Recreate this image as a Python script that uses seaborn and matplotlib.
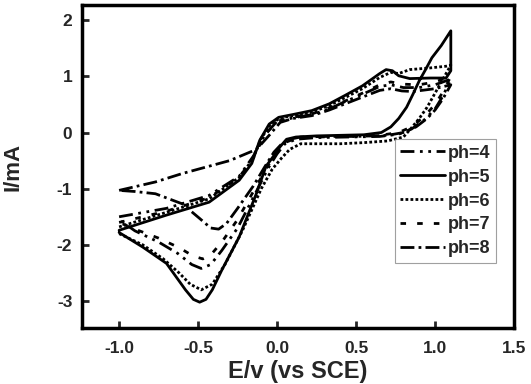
import matplotlib
matplotlib.use("Agg")
import matplotlib.pyplot as plt
import numpy as np
import pandas as pd
import seaborn as sns

# potential (V vs SCE) and current (mA); forward sweep then reverse sweep
ph4_E = [-1.0, -0.7, -0.43, -0.24, -0.15, -0.08, 0.0, 0.1, 0.22, 0.33, 0.43, 0.54, 0.65, 0.72, 0.8, 0.9, 1.0, 1.1,
         1.05, 1.0, 0.93, 0.85, 0.77, 0.65, 0.45, 0.25, 0.12, 0.05, 0.0, -0.06, -0.14, -0.25, -0.35, -0.42, -0.48,
         -0.54, -0.63, -0.75, -0.9, -1.0]
ph4_I = [-1.5, -1.35, -1.12, -0.78, -0.42, -0.05, 0.2, 0.26, 0.32, 0.42, 0.55, 0.68, 0.82, 0.85, 0.8, 0.8, 0.85, 0.95,
         0.65, 0.42, 0.22, 0.06, -0.03, -0.07, -0.08, -0.09, -0.12, -0.2, -0.38, -0.65, -1.1, -1.7, -2.1, -2.35, -2.42,
         -2.35, -2.15, -1.95, -1.75, -1.55]

ph5_E = [-1.0, -0.7, -0.43, -0.24, -0.16, -0.11, -0.05, 0.01, 0.1, 0.22, 0.33, 0.43, 0.54, 0.65, 0.69, 0.73, 0.77,
         0.84, 0.97, 1.07, 1.1, 1.1, 1.04, 0.98, 0.94, 0.9, 0.86, 0.82, 0.77, 0.72, 0.66, 0.55, 0.4, 0.25, 0.12, 0.06,
         0.02, -0.03, -0.07, -0.13, -0.24, -0.35, -0.41, -0.45, -0.49, -0.53, -0.58, -0.7, -0.85, -1.0]
ph5_I = [-1.74, -1.47, -1.24, -0.85, -0.55, -0.14, 0.15, 0.27, 0.32, 0.39, 0.51, 0.66, 0.83, 1.05, 1.12, 1.1, 1.01,
         0.96, 0.97, 0.97, 1.1, 1.81, 1.55, 1.33, 1.12, 0.92, 0.68, 0.45, 0.25, 0.1, 0.0, -0.04, -0.05, -0.06, -0.08,
         -0.12, -0.25, -0.45, -0.6, -1.08, -1.86, -2.45, -2.8, -2.97, -3.02, -2.97, -2.8, -2.33, -2.04, -1.78]

ph6_E = [-1.0, -0.7, -0.43, -0.24, -0.16, -0.1, -0.04, 0.02, 0.1, 0.22, 0.33, 0.43, 0.54, 0.65, 0.72, 0.77, 0.84,
         0.97, 1.07, 1.1, 1.06, 1.0, 0.95, 0.9, 0.85, 0.8, 0.7, 0.55, 0.4, 0.25, 0.15, 0.08, 0.03, -0.03, -0.1, -0.22,
         -0.33, -0.41, -0.48, -0.55, -0.62, -0.72, -0.85, -1.0]
ph6_I = [-1.68, -1.42, -1.18, -0.8, -0.5, -0.1, 0.15, 0.26, 0.3, 0.36, 0.48, 0.62, 0.78, 0.98, 1.07, 1.05, 1.12,
         1.15, 1.18, 1.2, 1.0, 0.7, 0.45, 0.25, 0.08, -0.08, -0.15, -0.18, -0.2, -0.2, -0.2, -0.3, -0.45, -0.65, -1.0,
         -1.75, -2.35, -2.7, -2.8, -2.7, -2.5, -2.25, -2.0, -1.8]

ph7_E = [-1.0, -0.7, -0.43, -0.24, -0.15, -0.08, 0.0, 0.1, 0.22, 0.33, 0.43, 0.54, 0.65, 0.72, 0.8, 0.9, 1.0, 1.1,
         1.05, 1.0, 0.93, 0.85, 0.77, 0.65, 0.45, 0.25, 0.12, 0.05, 0.0, -0.06, -0.14, -0.25, -0.35, -0.42, -0.47,
         -0.53, -0.62, -0.75, -0.9, -1.0]
ph7_I = [-1.6, -1.4, -1.16, -0.8, -0.45, -0.05, 0.2, 0.27, 0.33, 0.44, 0.56, 0.7, 0.85, 0.9, 0.86, 0.85, 0.9, 1.0,
         0.72, 0.5, 0.28, 0.1, 0.0, -0.05, -0.07, -0.08, -0.1, -0.18, -0.35, -0.6, -1.0, -1.55, -1.95, -2.18, -2.25,
         -2.2, -2.05, -1.88, -1.72, -1.6]

ph8_E = [-1.0, -0.77, -0.6, -0.3, -0.13, -0.05, 0.02, 0.1, 0.22, 0.33, 0.43, 0.54, 0.65, 0.72, 0.79, 0.86, 1.0, 1.1,
         1.05, 1.0, 0.95, 0.88, 0.8, 0.7, 0.5, 0.3, 0.15, 0.08, 0.03, -0.02, -0.08, -0.15, -0.25, -0.32, -0.37, -0.42,
         -0.49, -0.6, -0.77, -0.9, -1.0]
ph8_I = [-1.03, -0.88, -0.73, -0.5, -0.3, -0.05, 0.18, 0.25, 0.3, 0.4, 0.51, 0.63, 0.75, 0.78, 0.74, 0.73, 0.78, 0.85,
         0.6, 0.4, 0.25, 0.1, 0.0, -0.05, -0.07, -0.07, -0.08, -0.12, -0.2, -0.35, -0.62, -0.95, -1.35, -1.62, -1.72,
         -1.7, -1.53, -1.27, -1.09, -1.05, -1.03]

labels = ["ph=4", "ph=5", "ph=6", "ph=7", "ph=8"]
series = [(ph4_E, ph4_I), (ph5_E, ph5_I), (ph6_E, ph6_I), (ph7_E, ph7_I), (ph8_E, ph8_I)]
styles = [(0, (5, 2, 1, 2, 1, 2)), "-", (0, (1, 0.8)), (0, (2, 4)), (0, (5, 1.5, 1, 1.5))]

sns.set_style("ticks")
plt.rcParams["font.family"] = ["Liberation Sans", "DejaVu Sans"]
plt.rcParams["font.weight"] = "bold"

fig = plt.figure(figsize=(5.31, 3.84), dpi=100)
ax = fig.add_axes([0.1544, 0.1458, 0.8136, 0.8412])

for label, (e, i), ls in zip(labels, series, styles):
  df = pd.DataFrame({"E": e, "I": i})
  sns.lineplot(data=df, x="E", y="I", sort=False, estimator=None, color="black",
               linewidth=2.0, linestyle=ls, label=label, ax=ax)

ax.set_xlim(-1.235, 1.5)
ax.set_ylim(-3.48, 2.27)
ax.set_xticks([-1.0, -0.5, 0.0, 0.5, 1.0, 1.5])
ax.set_xticklabels(["-1.0", "-0.5", "0.0", "0.5", "1.0", "1.5"])
ax.set_yticks([-3, -2, -1, 0, 1, 2])
ax.set_yticklabels(["-3", "-2", "-1", "0", "1", "2"])
ax.tick_params(direction="in", length=5, width=2, labelsize=12.5)
ax.tick_params(axis="x", pad=9)
ax.tick_params(axis="y", pad=7)
for lab in ax.get_xticklabels() + ax.get_yticklabels():
  lab.set_fontweight("bold")
for sp in ax.spines.values():
  sp.set_visible(True)
  sp.set_linewidth(2.5)
  sp.set_color("black")

ax.set_xlabel("E/v (vs SCE)", fontsize=17, fontweight="bold", labelpad=3)
ax.set_ylabel("I/mA", fontsize=16, fontweight="bold", labelpad=24)

leg = ax.legend(loc="upper left", bbox_to_anchor=(0.724, 0.584), frameon=True, fancybox=False,
                edgecolor="#888888", fontsize=13, handlelength=2.5, handletextpad=0.15,
                labelspacing=0.38, borderpad=0.3, borderaxespad=0)
leg.get_frame().set_linewidth(0.8)
for t in leg.get_texts():
  t.set_fontweight("bold")

fig.savefig("out.png", dpi=100)
